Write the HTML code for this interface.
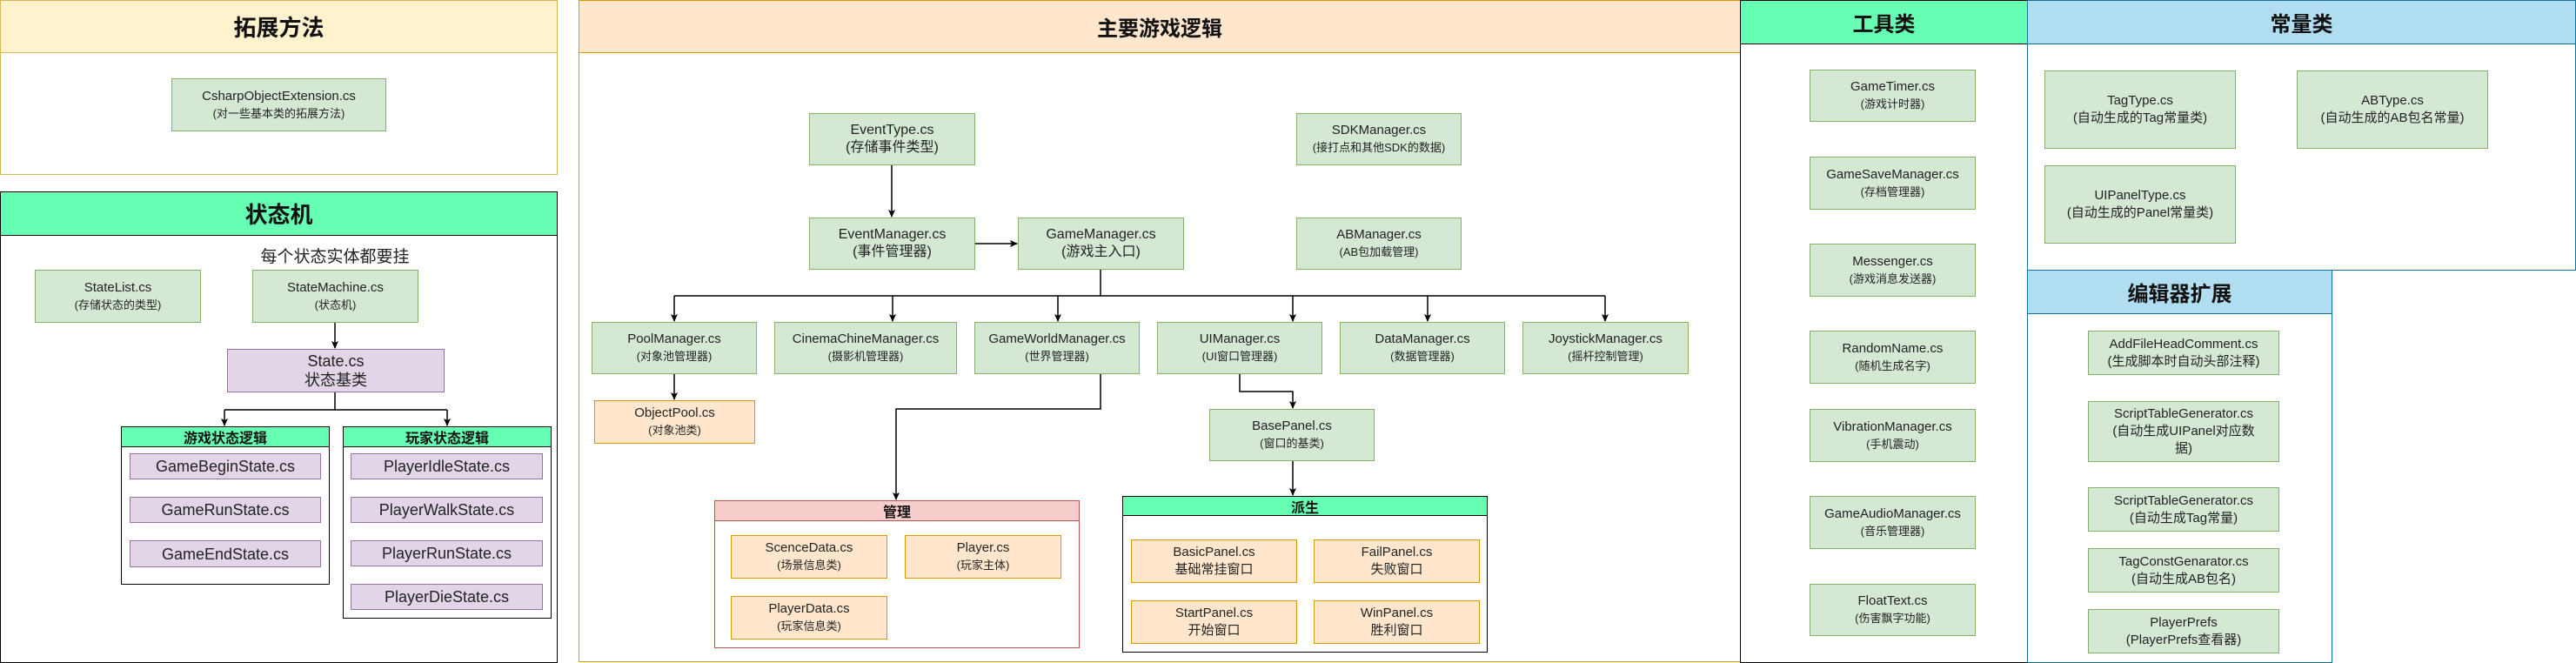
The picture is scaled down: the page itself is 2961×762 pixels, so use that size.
<!DOCTYPE html>
<html><head><meta charset="utf-8"><style>
*{margin:0;padding:0;box-sizing:border-box}
body{width:2961px;height:762px;background:#fff;position:relative;overflow:hidden;font-family:"Liberation Sans","Noto Sans CJK SC",sans-serif;color:#222}
.a{position:absolute}
.n{position:absolute;display:flex;flex-direction:column;align-items:center;justify-content:center;text-align:center;font-size:15px;line-height:20px;border:1.5px solid #82b366;background:#d5e8d4}
.o{border-color:#d79b00;background:#ffe6cc}
.p{border-color:#9673a6;background:#e1d5e7;font-size:21px;line-height:24px}
.s{font-size:13px;line-height:20px;display:block}
.h{position:absolute;display:flex;align-items:center;justify-content:center;font-weight:bold;color:#111}
</style></head><body>

<!-- 拓展方法 -->
<div class="a" style="left:0;top:0;width:641px;height:201px;border:1.5px solid #d6b656"></div>
<div class="h" style="left:0;top:0;width:641px;height:61px;background:#fff2cc;border:1.5px solid #d6b656;font-size:26px">拓展方法</div>
<div class="n" style="left:197px;top:90px;width:247px;height:61px"><div>CsharpObjectExtension.cs</div><span class="s">(对一些基本类的拓展方法)</span></div>

<!-- 状态机 -->
<div class="a" style="left:0;top:220px;width:641px;height:542px;border:1.5px solid #000"></div>
<div class="h" style="left:0;top:220px;width:641px;height:51px;background:#66ffb3;border:1.5px solid #000;font-size:26px">状态机</div>
<div class="a" style="left:285px;top:280px;width:200px;text-align:center;font-size:19px">每个状态实体都要挂</div>
<div class="n" style="left:40px;top:310px;width:191px;height:61px"><div>StateList.cs</div><span class="s">(存储状态的类型)</span></div>
<div class="n" style="left:290px;top:310px;width:191px;height:61px"><div>StateMachine.cs</div><span class="s">(状态机)</span></div>
<div class="n p" style="left:261px;top:401px;width:250px;height:50px;font-size:18px;line-height:22px">State.cs<br>状态基类</div>
<div class="a" style="left:139px;top:490px;width:240px;height:182px;border:1.5px solid #000"></div>
<div class="h" style="left:139px;top:490px;width:240px;height:24px;background:#66ffb3;border:1.5px solid #000;font-size:16px">游戏状态逻辑</div>
<div class="n p" style="left:149px;top:521px;width:220px;height:30px;font-size:18px">GameBeginState.cs</div>
<div class="n p" style="left:149px;top:571px;width:220px;height:30px;font-size:18px">GameRunState.cs</div>
<div class="n p" style="left:149px;top:621px;width:220px;height:31px;font-size:18px">GameEndState.cs</div>
<div class="a" style="left:394px;top:490px;width:240px;height:221px;border:1.5px solid #000"></div>
<div class="h" style="left:394px;top:490px;width:240px;height:24px;background:#66ffb3;border:1.5px solid #000;font-size:16px">玩家状态逻辑</div>
<div class="n p" style="left:403px;top:521px;width:221px;height:30px;font-size:18px">PlayerIdleState.cs</div>
<div class="n p" style="left:403px;top:571px;width:221px;height:30px;font-size:18px">PlayerWalkState.cs</div>
<div class="n p" style="left:403px;top:621px;width:221px;height:30px;font-size:18px">PlayerRunState.cs</div>
<div class="n p" style="left:403px;top:671px;width:221px;height:30px;font-size:18px">PlayerDieState.cs</div>

<!-- 主要游戏逻辑 -->
<div class="a" style="left:665px;top:0;width:1336px;height:761px;border:1.5px solid #d79b00"></div>
<div class="h" style="left:665px;top:0;width:1336px;height:61px;background:#ffe6cc;border:1.5px solid #d79b00;font-size:24px">主要游戏逻辑</div>
<div class="n" style="left:930px;top:130px;width:191px;height:60px;font-size:16px">EventType.cs<br>(存储事件类型)</div>
<div class="n" style="left:1490px;top:130px;width:190px;height:60px"><div>SDKManager.cs</div><span class="s">(接打点和其他SDK的数据)</span></div>
<div class="n" style="left:930px;top:250px;width:191px;height:60px;font-size:16px">EventManager.cs<br>(事件管理器)</div>
<div class="n" style="left:1170px;top:250px;width:191px;height:60px;font-size:16px">GameManager.cs<br>(游戏主入口)</div>
<div class="n" style="left:1490px;top:250px;width:190px;height:60px"><div>ABManager.cs</div><span class="s">(AB包加载管理)</span></div>
<div class="n" style="left:680px;top:370px;width:190px;height:60px"><div>PoolManager.cs</div><span class="s">(对象池管理器)</span></div>
<div class="n" style="left:890px;top:370px;width:210px;height:60px"><div>CinemaChineManager.cs</div><span class="s">(摄影机管理器)</span></div>
<div class="n" style="left:1120px;top:370px;width:190px;height:60px"><div>GameWorldManager.cs</div><span class="s">(世界管理器)</span></div>
<div class="n" style="left:1330px;top:370px;width:190px;height:60px"><div>UIManager.cs</div><span class="s">(UI窗口管理器)</span></div>
<div class="n" style="left:1540px;top:370px;width:190px;height:60px"><div>DataManager.cs</div><span class="s">(数据管理器)</span></div>
<div class="n" style="left:1750px;top:370px;width:191px;height:60px"><div>JoystickManager.cs</div><span class="s">(摇杆控制管理)</span></div>
<div class="n o" style="left:683px;top:460px;width:185px;height:50px"><div>ObjectPool.cs</div><span class="s">(对象池类)</span></div>
<div class="n" style="left:1390px;top:470px;width:190px;height:60px"><div>BasePanel.cs</div><span class="s">(窗口的基类)</span></div>

<div class="a" style="left:821px;top:575px;width:420px;height:170px;border:1.5px solid #b85450"></div>
<div class="h" style="left:821px;top:575px;width:420px;height:24px;background:#f8cecc;border:1.5px solid #b85450;font-size:16px">管理</div>
<div class="n o" style="left:840px;top:615px;width:180px;height:50px"><div>ScenceData.cs</div><span class="s">(场景信息类)</span></div>
<div class="n o" style="left:1040px;top:615px;width:180px;height:50px"><div>Player.cs</div><span class="s">(玩家主体)</span></div>
<div class="n o" style="left:840px;top:685px;width:180px;height:50px"><div>PlayerData.cs</div><span class="s">(玩家信息类)</span></div>

<div class="a" style="left:1290px;top:570px;width:420px;height:180px;border:1.5px solid #000"></div>
<div class="h" style="left:1290px;top:570px;width:420px;height:23px;background:#66ffb3;border:1.5px solid #000;font-size:16px">派生</div>
<div class="n o" style="left:1300px;top:620px;width:191px;height:50px">BasicPanel.cs<br>基础常挂窗口</div>
<div class="n o" style="left:1510px;top:620px;width:191px;height:50px">FailPanel.cs<br>失败窗口</div>
<div class="n o" style="left:1300px;top:690px;width:191px;height:50px">StartPanel.cs<br>开始窗口</div>
<div class="n o" style="left:1510px;top:690px;width:191px;height:50px">WinPanel.cs<br>胜利窗口</div>

<!-- 工具类 -->
<div class="a" style="left:2000px;top:0;width:331px;height:762px;border:1.5px solid #000"></div>
<div class="h" style="left:2000px;top:0;width:331px;height:51px;background:#66ffb3;border:1.5px solid #000;font-size:24px">工具类</div>
<div class="n" style="left:2080px;top:80px;width:191px;height:60px"><div>GameTimer.cs</div><span class="s">(游戏计时器)</span></div>
<div class="n" style="left:2080px;top:180px;width:191px;height:61px"><div>GameSaveManager.cs</div><span class="s">(存档管理器)</span></div>
<div class="n" style="left:2080px;top:280px;width:191px;height:61px"><div>Messenger.cs</div><span class="s">(游戏消息发送器)</span></div>
<div class="n" style="left:2080px;top:380px;width:191px;height:61px"><div>RandomName.cs</div><span class="s">(随机生成名字)</span></div>
<div class="n" style="left:2080px;top:470px;width:191px;height:61px"><div>VibrationManager.cs</div><span class="s">(手机震动)</span></div>
<div class="n" style="left:2080px;top:570px;width:191px;height:61px"><div>GameAudioManager.cs</div><span class="s">(音乐管理器)</span></div>
<div class="n" style="left:2080px;top:671px;width:191px;height:60px"><div>FloatText.cs</div><span class="s">(伤害飘字功能)</span></div>

<!-- 常量类 -->
<div class="a" style="left:2330px;top:0;width:631px;height:311px;border:1.5px solid #10739e"></div>
<div class="h" style="left:2330px;top:0;width:631px;height:51px;background:#b1ddf0;border:1.5px solid #10739e;font-size:24px">常量类</div>
<div class="n" style="left:2350px;top:81px;width:220px;height:90px">TagType.cs<br>(自动生成的Tag常量类)</div>
<div class="n" style="left:2640px;top:81px;width:220px;height:90px">ABType.cs<br>(自动生成的AB包名常量)</div>
<div class="n" style="left:2350px;top:190px;width:220px;height:90px">UIPanelType.cs<br>(自动生成的Panel常量类)</div>

<!-- 编辑器扩展 -->
<div class="a" style="left:2330px;top:310px;width:351px;height:452px;border:1.5px solid #10739e"></div>
<div class="h" style="left:2330px;top:310px;width:351px;height:51px;background:#b1ddf0;border:1.5px solid #10739e;font-size:24px">编辑器扩展</div>
<div class="n" style="left:2400px;top:380px;width:220px;height:51px">AddFileHeadComment.cs<br>(生成脚本时自动头部注释)</div>
<div class="n" style="left:2400px;top:461px;width:220px;height:70px">ScriptTableGenerator.cs<br>(自动生成UIPanel对应数<br>据)</div>
<div class="n" style="left:2400px;top:560px;width:220px;height:51px">ScriptTableGenerator.cs<br>(自动生成Tag常量)</div>
<div class="n" style="left:2400px;top:630px;width:220px;height:51px">TagConstGenarator.cs<br>(自动生成AB包名)</div>
<div class="n" style="left:2400px;top:700px;width:220px;height:51px">PlayerPrefs<br>(PlayerPrefs查看器)</div>

<svg class="a" style="left:0;top:0" width="2961" height="762">
<defs><marker id="m" markerWidth="10" markerHeight="10" refX="8" refY="4" orient="auto" markerUnits="userSpaceOnUse"><path d="M0,0 L9,4 L0,8 L2,4 z" fill="#000"/></marker></defs>
<g stroke="#000" stroke-width="1.5" fill="none">
<path d="M385,371 V400" marker-end="url(#m)"/>
<path d="M385,451 V471 M258,471 H514"/>
<path d="M258,471 V489" marker-end="url(#m)"/>
<path d="M514,471 V489" marker-end="url(#m)"/>
<path d="M1025,190 V249" marker-end="url(#m)"/>
<path d="M1121,280 H1169" marker-end="url(#m)"/>
<path d="M1265,310 V340 M775,340 H1845"/>
<path d="M775,340 V369" marker-end="url(#m)"/>
<path d="M1026,340 V369" marker-end="url(#m)"/>
<path d="M1216,340 V369" marker-end="url(#m)"/>
<path d="M1486,340 V369" marker-end="url(#m)"/>
<path d="M1641,340 V369" marker-end="url(#m)"/>
<path d="M1845,340 V369" marker-end="url(#m)"/>
<path d="M775,430 V459" marker-end="url(#m)"/>
<path d="M1265,430 V470 H1030 V574" marker-end="url(#m)"/>
<path d="M1425,430 V450 H1486 V469" marker-end="url(#m)"/>
<path d="M1486,530 V569" marker-end="url(#m)"/>
</g></svg>
</body></html>
